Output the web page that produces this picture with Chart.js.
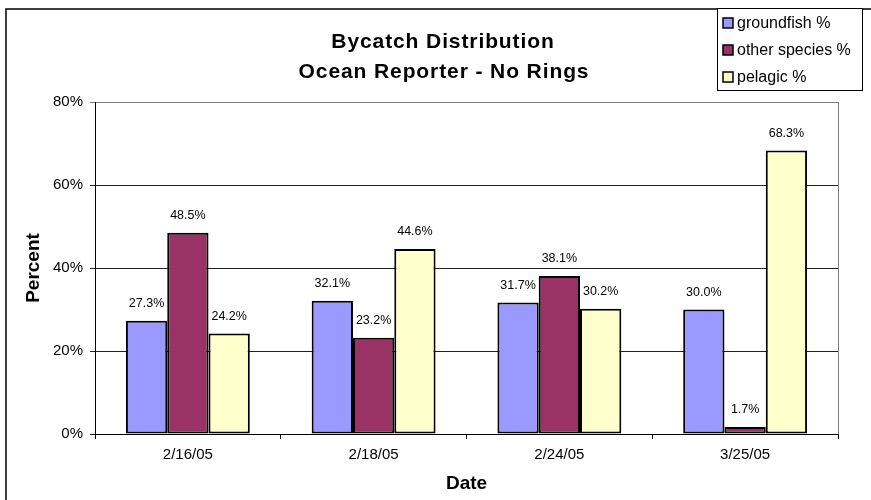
<!DOCTYPE html>
<html>
<head>
<meta charset="utf-8">
<script src="https://cdn.jsdelivr.net/npm/chart.js@4.4.1/dist/chart.umd.min.js"></script>
<style>
  html, body { margin: 0; padding: 0; background: #fff; }
  #wrap { width: 871px; height: 500px; }
</style>
</head>
<body>
<div id="wrap"><canvas id="c" width="871" height="500"></canvas></div>
<script>
const categories = ['2/16/05', '2/18/05', '2/24/05', '3/25/05'];
const groundfish = [27.3, 32.1, 31.7, 30.0];
const otherSpecies = [48.5, 23.2, 38.1, 1.7];
const pelagic = [24.2, 44.6, 30.2, 68.3];
const seriesNames = ['groundfish %', 'other species %', 'pelagic %'];
const yTicks = [0, 20, 40, 60, 80];
const titleLines = ['Bycatch Distribution', 'Ocean Reporter - No Rings'];
const xTitle = 'Date';
const yTitle = 'Percent';

const FONT = '"Liberation Sans", Arial, sans-serif';
const colors = ['#9999FF', '#993366', '#FFFFCC'];

const framePlugin = {
  id: 'frame',
  beforeDraw(chart) {
    const ctx = chart.ctx;
    ctx.save();
    ctx.fillStyle = '#fff';
    ctx.fillRect(0, 0, chart.width, chart.height);
    ctx.restore();
  },
  afterDraw(chart) {
    const ctx = chart.ctx;
    const a = chart.chartArea;
    ctx.save();
    // plot area right border (gray)
    ctx.strokeStyle = '#808080';
    ctx.lineWidth = 1;
    ctx.beginPath();
    ctx.moveTo(a.right + 0.5, a.top);
    ctx.lineTo(a.right + 0.5, a.bottom);
    ctx.stroke();
    // outer border
    ctx.strokeStyle = '#000';
    ctx.lineWidth = 1.5;
    ctx.strokeRect(6, 9, 880, 500);
    // titles
    ctx.fillStyle = '#000';
    ctx.textAlign = 'center';
    ctx.textBaseline = 'middle';
    ctx.font = 'bold 21px ' + FONT;
    try { ctx.letterSpacing = '0.9px'; } catch (e) {}
    ctx.fillText(titleLines[0], 443, 42);
    ctx.fillText(titleLines[1], 444, 72);
    try { ctx.letterSpacing = '0px'; } catch (e) {}
    // legend
    ctx.lineWidth = 1;
    ctx.strokeStyle = '#000';
    ctx.fillStyle = '#fff';
    ctx.fillRect(717.5, 8.5, 145, 82);
    ctx.strokeRect(717.5, 8.5, 145, 82);
    ctx.font = '16px ' + FONT;
    ctx.textAlign = 'left';
    chart.data.datasets.forEach((ds, i) => {
      const cy = 23 + i * 27;
      ctx.fillStyle = ds.backgroundColor;
      ctx.fillRect(723, cy - 5, 10, 10);
      ctx.lineWidth = 1.5;
      ctx.strokeStyle = '#000';
      ctx.strokeRect(723, cy - 5, 10, 10);
      ctx.fillStyle = '#000';
      ctx.fillText(ds.label, 737, cy + 1);
    });
    // data labels
    ctx.font = '12.5px ' + FONT;
    ctx.textAlign = 'center';
    ctx.textBaseline = 'middle';
    ctx.fillStyle = '#000';
    chart.data.datasets.forEach((ds, i) => {
      const meta = chart.getDatasetMeta(i);
      meta.data.forEach((bar, j) => {
        ctx.fillText(ds.data[j].toFixed(1) + '%', bar.x, bar.y - 17);
      });
    });
    ctx.restore();
  }
};

new Chart(document.getElementById('c'), {
  type: 'bar',
  data: {
    labels: categories,
    datasets: [
      { label: seriesNames[0], data: groundfish, backgroundColor: colors[0] },
      { label: seriesNames[1], data: otherSpecies, backgroundColor: colors[1] },
      { label: seriesNames[2], data: pelagic, backgroundColor: colors[2] }
    ].map(d => Object.assign(d, {
      borderColor: '#000', borderWidth: 2, borderSkipped: false,
      categoryPercentage: 0.667, barPercentage: 1.0
    }))
  },
  options: {
    responsive: false,
    animation: false,
    events: [],
    layout: { padding: { left: 0, right: 33, top: 102, bottom: 0 } },
    plugins: { legend: { display: false }, title: { display: false }, tooltip: { enabled: false } },
    scales: {
      x: {
        grid: { offset: true, drawOnChartArea: false, drawTicks: true, tickLength: 5, color: '#000' },
        border: { color: '#000', width: 1 },
        ticks: { color: '#000', font: { family: FONT, size: 15 }, padding: 7, maxRotation: 0 },
        title: { display: true, text: xTitle, color: '#000', font: { family: FONT, size: 19, weight: 'bold' }, padding: { top: 0, bottom: 5 } },
        afterFit(scale) { scale.height = 66; }
      },
      y: {
        min: 0, max: 80,
        afterBuildTicks(scale) { scale.ticks = yTicks.map(v => ({ value: v })); },
        grid: { color: ctx => (ctx.tick && ctx.tick.value === 80 ? '#808080' : '#222'), tickLength: 5, drawTicks: true },
        border: { color: '#000', width: 1 },
        ticks: { color: '#000', font: { family: FONT, size: 15 }, padding: 7, callback: v => v + '%' },
        title: { display: true, text: yTitle, color: '#000', font: { family: FONT, size: 19, weight: 'bold' }, padding: { top: 22, bottom: 0 } },
        afterFit(scale) { scale.width = 95; }
      }
    }
  },
  plugins: [framePlugin]
});
</script>
</body>
</html>
